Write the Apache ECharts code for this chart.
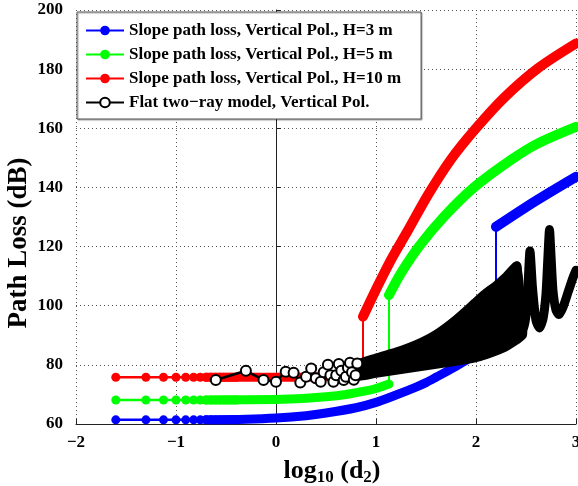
<!DOCTYPE html>
<html>
<head>
<meta charset="utf-8">
<script src="https://cdn.jsdelivr.net/npm/echarts@6/dist/echarts.min.js"></script>
<style>
  html, body { margin: 0; padding: 0; background: #fff; }
  #chart { width: 578px; height: 486px; }
</style>
</head>
<body>
<div id="chart"></div>
<script>
// x positions of the single markers at small d2 (log10 scale)
const markX = [-1.602, -1.301, -1.125, -1.0, -0.903, -0.824, -0.757, -0.699, -0.648, -0.602, -0.561, -0.523, -0.488, -0.456, -0.426, -0.398];
const blueMark = [61.4, 61.4, 61.4, 61.4, 61.4, 61.4, 61.4, 61.4, 61.4, 61.4, 61.4, 61.4, 61.4, 61.4, 61.4, 61.4];
const greenMark = [68.1, 68.1, 68.1, 68.1, 68.1, 68.1, 68.1, 68.1, 68.1, 68.1, 68.1, 68.1, 68.1, 68.1, 68.1, 68.1];
const redMark = [75.8, 75.8, 75.8, 75.8, 75.8, 75.8, 75.8, 75.8, 75.8, 75.8, 75.8, 75.8, 75.8, 75.8, 75.8, 75.8];

// dense part before the jump
const blueLowX = [-0.7, -0.3, 0, 0.3, 0.5, 0.8, 1.0, 1.2, 1.4, 1.5, 1.6, 1.8, 2.0, 2.2];
const blueLowY = [61.4, 61.6, 62, 62.8, 63.7, 65.5, 67.3, 69.8, 72.5, 74, 75.8, 79.5, 83.5, 87.5];
const greenLowX = [-0.7, 0, 0.3, 0.5, 0.7, 0.9, 1.0, 1.13];
const greenLowY = [68.1, 68.3, 68.7, 69.2, 70, 71.2, 72, 73.5];
const redLowX = [-0.7, 0, 0.5, 0.7, 0.87];
const redLowY = [75.8, 75.8, 76, 76.3, 76.8];

// after the jump
const blueHighX = [2.2, 2.6, 3.0];
const blueHighY = [126.7, 135.5, 143.6];
const greenHighX = [1.13, 1.25, 1.43, 1.68, 1.98, 2.35, 2.62, 3.0];
const greenHighY = [103.6, 111, 120, 130.1, 140, 149.3, 154.9, 160.5];
const redHighX = [0.87, 1.0, 1.15, 1.32, 1.52, 1.75, 2.0, 2.28, 2.62, 3.0];
const redHighY = [96.3, 105.5, 115.5, 125.5, 137.5, 149.5, 160, 170.3, 180.3, 188.7];

// flat two-ray model: single markers, dense band, tail
const flatX = [-0.602, -0.301, -0.125, 0, 0.097, 0.176, 0.243, 0.301, 0.352, 0.398, 0.447, 0.477, 0.519, 0.544, 0.574, 0.602, 0.628, 0.653, 0.677, 0.699, 0.719, 0.740, 0.760, 0.778, 0.796, 0.813];
const flatY = [74.9, 78.0, 74.9, 74.3, 77.7, 77.3, 74.0, 76.0, 78.8, 75.5, 74.3, 77.5, 80.0, 76.5, 74.3, 76.5, 80.3, 78.0, 74.9, 76.0, 79.0, 80.7, 77.5, 75.0, 76.5, 80.5];
const bandX = [0.8, 1.0, 1.2, 1.4, 1.6, 1.8, 2.0, 2.1, 2.2, 2.3, 2.41, 2.47];
const bandTop = [80, 82.5, 84.5, 87, 90.5, 95.5, 101.5, 104.5, 107, 110, 113.5, 93];
const bandBottom = [76, 77, 78, 79, 80, 81, 82.3, 83.3, 84.5, 86, 88.3, 90];
const tailX = [2.41, 2.44, 2.48, 2.51, 2.54, 2.565, 2.6, 2.635, 2.67, 2.7, 2.72, 2.735, 2.75, 2.77, 2.8, 2.83, 2.87, 2.92, 2.97, 3.0];
const tailY = [113.5, 101, 92, 100, 118.5, 106, 95, 92.5, 95.5, 104, 117, 125.8, 117, 105, 98.5, 97, 99.5, 104.5, 109.5, 112];

const names = [
  'Slope path loss, Vertical Pol., H=3 m',
  'Slope path loss, Vertical Pol., H=5 m',
  'Slope path loss, Vertical Pol., H=10 m',
  'Flat two\u2212ray model, Vertical Pol.'
];

const serif = 'Liberation Serif';
const pairs = (xs, ys) => xs.map((x, i) => [x, ys[i]]);

function slopeSeries(name, color, markY, lowX, lowY, highX, highY) {
  return [
    {
      type: 'line', data: pairs(lowX, lowY), symbol: 'none', smooth: 0.3, z: 1,
      lineStyle: { color: color, width: 9, cap: 'round', join: 'round' }
    },
    {
      type: 'line', data: [[highX[0], lowY[lowY.length - 1]], [highX[0], highY[0]]], symbol: 'none', z: 1,
      lineStyle: { color: color, width: 2 }
    },
    {
      type: 'line', data: pairs(highX, highY), symbol: 'none', smooth: 0.3, z: 1,
      lineStyle: { color: color, width: 10, cap: 'round', join: 'round' }
    },
    {
      name: name, type: 'line', data: pairs(markX, markY), z: 1,
      symbol: 'circle', symbolSize: 9,
      itemStyle: { color: color },
      lineStyle: { color: color, width: 2.5 }
    }
  ];
}

const chart = echarts.init(document.getElementById('chart'));

const option = {
  animation: false,
  grid: { left: 76, right: 2, top: 10, bottom: 62, containLabel: false, outerBoundsMode: 'none' },
  legend: {
    data: names,
    orient: 'vertical',
    left: 77, top: 12,
    itemWidth: 38, itemHeight: 12, itemGap: 7,
    padding: [10, 20, 8, 8],
    backgroundColor: '#fff',
    borderColor: '#555', borderWidth: 1,
    shadowColor: 'rgba(0,0,0,0.35)', shadowOffsetX: 1, shadowOffsetY: 1, shadowBlur: 1,
    selectedMode: false,
    textStyle: { fontFamily: serif, fontWeight: 'bold', fontSize: 17, lineHeight: 17, color: '#000' }
  },
  xAxis: {
    type: 'value', min: -2, max: 3, interval: 1,
    axisLine: { show: true, onZero: false, lineStyle: { color: '#222', width: 1 } },
    axisTick: { show: true, inside: true, length: 5, lineStyle: { color: '#222' } },
    axisLabel: {
      color: '#000', fontFamily: serif, fontWeight: 'bold', fontSize: 17, margin: 10,
      formatter: v => String(v).replace('-', '\u2212')
    },
    splitLine: { show: true, lineStyle: { color: '#555', type: [1, 3], width: 1 } },
    name: '{a|log}{b|10}{a| (d}{b|2}{a|)}',
    nameLocation: 'middle', nameGap: 25,
    nameTextStyle: {
      padding: [0, 0, 0, 12],
      rich: {
        a: { fontFamily: serif, fontWeight: 'bold', fontSize: 26, color: '#000', lineHeight: 30 },
        b: { fontFamily: serif, fontWeight: 'bold', fontSize: 17, color: '#000', lineHeight: 30, padding: [13, 0, 0, 0] }
      }
    }
  },
  yAxis: {
    type: 'value', min: 60, max: 200, interval: 20,
    axisLine: { show: true, lineStyle: { color: '#222', width: 1 } },
    axisTick: { show: true, inside: true, length: 5, lineStyle: { color: '#222' } },
    axisLabel: { color: '#000', fontFamily: serif, fontWeight: 'bold', fontSize: 17, margin: 13 },
    splitLine: { show: true, lineStyle: { color: '#555', type: [1, 3], width: 1 } },
    name: 'Path Loss (dB)', nameLocation: 'middle', nameGap: 43, nameMoveOverlap: false,
    nameTextStyle: { fontFamily: serif, fontWeight: 'bold', fontSize: 27, color: '#000', padding: [0, 52, 0, 0] }
  },
  series: [].concat(
    slopeSeries(names[0], '#0000ff', blueMark, blueLowX, blueLowY, blueHighX, blueHighY),
    slopeSeries(names[1], '#00ff00', greenMark, greenLowX, greenLowY, greenHighX, greenHighY),
    slopeSeries(names[2], '#ff0000', redMark, redLowX, redLowY, redHighX, redHighY),
    [
      {
        type: 'custom', zlevel: 1, z: 5, silent: true, data: [[bandX[0], bandTop[0]]],
        renderItem: function (params, api) {
          const top = bandX.map((x, i) => api.coord([x, bandTop[i]]));
          const bottom = bandX.map((x, i) => api.coord([x, bandBottom[i]])).reverse();
          return {
            type: 'polygon',
            shape: { points: top.concat(bottom), smooth: 0.2 },
            style: { fill: '#000', stroke: '#000', lineWidth: 8, lineJoin: 'round' }
          };
        }
      },
      {
        type: 'line', data: pairs(tailX, tailY), symbol: 'none', zlevel: 1, z: 5, smooth: 0.2,
        lineStyle: { color: '#000', width: 9, cap: 'round', join: 'round' }
      },
      {
        name: names[3], type: 'line', data: pairs(flatX, flatY), zlevel: 1, z: 6,
        symbol: 'emptyCircle', symbolSize: 10,
        itemStyle: { color: '#000', borderWidth: 2.5 },
        lineStyle: { color: '#000', width: 2.5 }
      }
    ]
  )
};

chart.setOption(option);
</script>
</body>
</html>
